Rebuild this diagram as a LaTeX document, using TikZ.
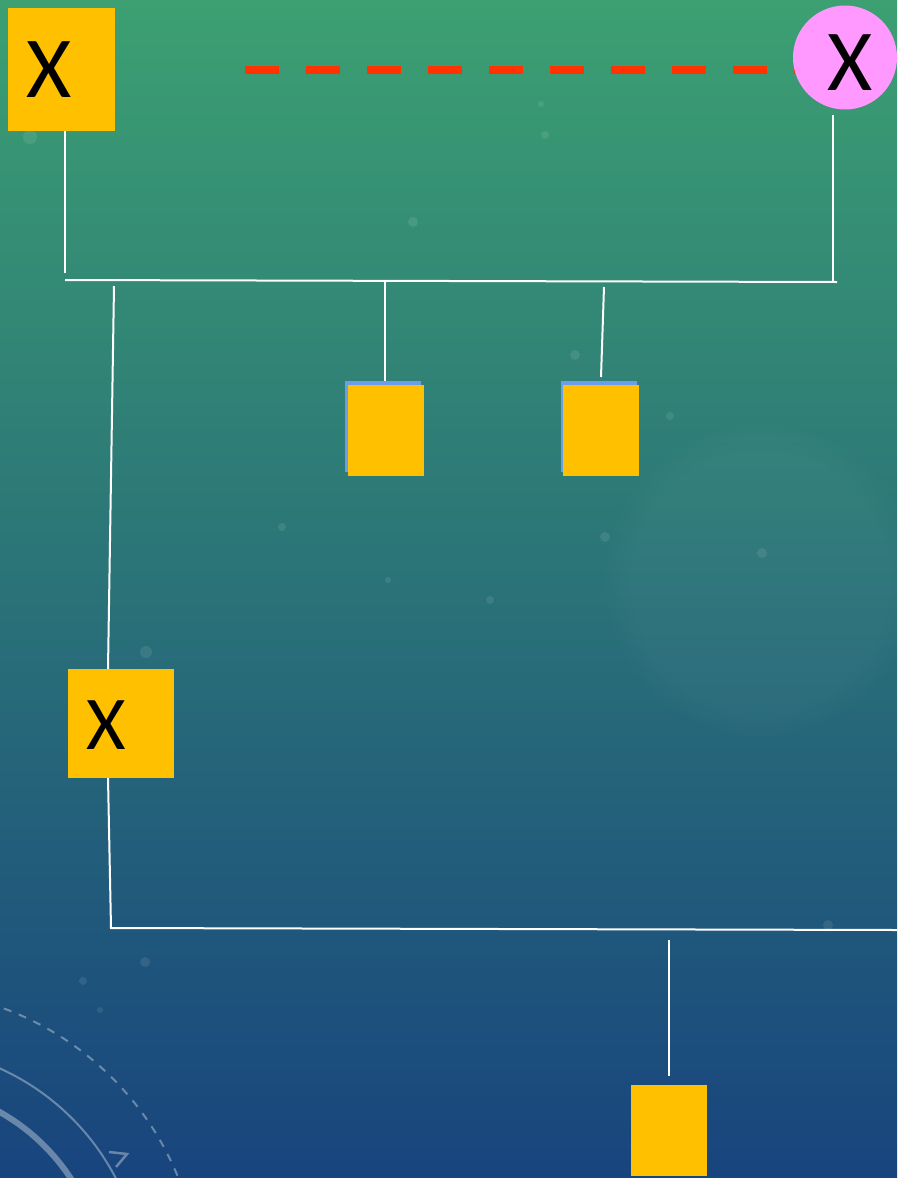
\documentclass[tikz,border=0pt]{standalone}
\usepackage{fontspec}
\setmainfont{Carlito}
\usetikzlibrary{fadings}
\begin{document}
\begin{tikzpicture}[x=1pt,y=-1pt,
  ybox/.style={draw=none,fill=boxyellow,inner sep=0pt,rectangle},
  bbox/.style={draw=none,fill=boxblue,inner sep=0pt,rectangle},
  conn/.style={draw=white,line width=2pt},
  lbl/.style={inner sep=0pt,text=black},
  bokeh/.style={fill=white,opacity=0.09},
  deco/.style={draw=white,opacity=0.35}]
\definecolor{boxyellow}{HTML}{FFC000}
\definecolor{boxblue}{HTML}{6C9CEB}
\definecolor{pinkc}{HTML}{FF99FF}
\definecolor{redd}{HTML}{FF3300}
\definecolor{bgtop}{RGB}{60,160,114}
\definecolor{bgmid}{RGB}{44,116,114}
\definecolor{bgbot}{RGB}{24,68,126}
% background
\useasboundingbox (0,0) rectangle (897,1178);
\shade[top color=bgtop,middle color=bgmid,bottom color=bgbot] (0,0) rectangle (897,1178);
\begin{scope}
\clip (0,0) rectangle (897,1178);
\fill[white,opacity=0.03,path fading=circle with fuzzy edge 20 percent] (760,580) circle (160);
\foreach \p/\r in {{(413,222)/5},{(545,135)/4},{(541,104)/3},{(575,355)/5},{(605,537)/5},{(282,527)/4},{(146,652)/6},{(145,962)/5},{(83,981)/4},{(762,553)/5},{(828,925)/5},{(388,580)/3},{(30,137)/7},{(100,1010)/3},{(490,600)/4},{(670,416)/4}}
  \fill[bokeh] \p circle (\r);
\draw[deco,line width=6pt] (-100,1290) circle (204);
\draw[deco,line width=2pt] (-100,1290) circle (243);
\draw[deco,line width=2pt,dash pattern=on 8pt off 8pt] (-100,1290) circle (300);
\draw[deco,line width=2.5pt] (109,1152) -- (127,1154) -- (116,1167);
\end{scope}
% dashed link
\coordinate (d1) at (245,70);
\coordinate (d2) at (800,70);
\draw[redd,line width=8pt,dash pattern=on 34pt off 27pt] (d1) -- (d2);
% nodes
\node[ybox,minimum width=107pt,minimum height=123pt] (box1) at (61.5,69.5) {};
\node[lbl,font=\fontsize{87}{87}\selectfont] (x1) at (49,70) {X};
\node[circle,fill=pinkc,inner sep=0pt,minimum size=104pt] (circ) at (845,57.5) {};
\node[lbl,font=\fontsize{87}{87}\selectfont] (x2) at (850,63) {X};
\node[bbox,minimum width=76pt,minimum height=91pt] (boxAb) at (383,426.5) {};
\node[ybox,minimum width=76pt,minimum height=91pt] (boxA) at (386,430.5) {};
\node[bbox,minimum width=76pt,minimum height=91pt] (boxBb) at (599,426.5) {};
\node[ybox,minimum width=76pt,minimum height=91pt] (boxB) at (601,430.5) {};
\node[ybox,minimum width=106pt,minimum height=109pt] (box2) at (121,723.5) {};
\node[lbl,font=\fontsize{76}{76}\selectfont] (x3) at (106,725) {X};
\node[ybox,minimum width=76pt,minimum height=91pt] (box3) at (669,1130.5) {};
% junction coordinates
\coordinate (a1) at (65,131);
\coordinate (a2) at (65,273);
\coordinate (h1) at (65,280);
\coordinate (h2) at (837,282);
\coordinate (r1) at (833,115);
\coordinate (r2) at (833,282);
\coordinate (m1) at (385,282);
\coordinate (m2) at (385,381);
\coordinate (n1) at (604,287);
\coordinate (n2) at (601,377);
\coordinate (l1) at (114,286);
\coordinate (l2) at (108,669);
\coordinate (l3) at (108,778);
\coordinate (l4) at (111,928);
\coordinate (h3) at (110,928);
\coordinate (h4) at (897,930);
\coordinate (v1) at (669,940);
\coordinate (v2) at (669,1076);
% connectors
\draw[conn] (a1) -- (a2);
\draw[conn] (h1) -- (h2);
\draw[conn] (r1) -- (r2);
\draw[conn] (m1) -- (m2);
\draw[conn] (n1) -- (n2);
\draw[conn] (l1) -- (l2);
\draw[conn] (l3) -- (l4);
\draw[conn] (h3) -- (h4);
\draw[conn] (v1) -- (v2);
\end{tikzpicture}
\end{document}
